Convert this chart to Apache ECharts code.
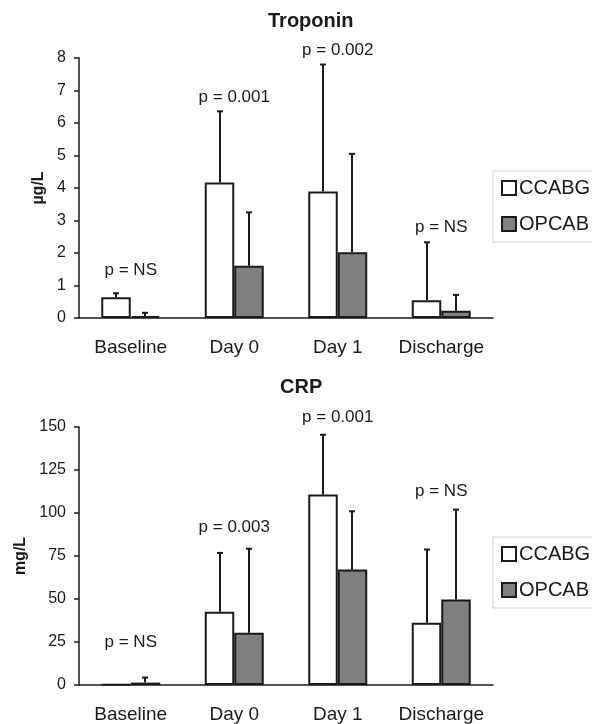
<!DOCTYPE html>
<html>
<head>
<meta charset="utf-8">
<script src="https://cdn.jsdelivr.net/npm/echarts@6/dist/echarts.min.js"></script>
<style>
html, body { margin: 0; padding: 0; background: #fff; }
#chart { width: 592px; height: 724px; }
</style>
</head>
<body>
<div id="chart"></div>
<script>
var categories = ['Baseline', 'Day 0', 'Day 1', 'Discharge'];

// Troponin (µg/L): bar height and top of the error bar
var tropCcabg = [0.64, 4.17, 3.89, 0.55];
var tropCcabgErr = [0.76, 6.36, 7.80, 2.33];
var tropOpcab = [0.06, 1.61, 2.02, 0.22];
var tropOpcabErr = [0.16, 3.25, 5.05, 0.71];
var tropP = ['p = NS', 'p = 0.001', 'p = 0.002', 'p = NS'];
var tropPY = [1.48, 6.8, 8.25, 2.8];

// CRP (mg/L)
var crpCcabg = [0.3, 42.6, 110.7, 36.2];
var crpCcabgErr = [0.3, 76.8, 145.5, 78.8];
var crpOpcab = [1.4, 30.4, 67.2, 49.7];
var crpOpcabErr = [4.3, 79.2, 101, 102];
var crpP = ['p = NS', 'p = 0.003', 'p = 0.001', 'p = NS'];
var crpPY = [24.9, 91.5, 155.8, 112.4];

var FONT = '"Liberation Sans", Arial, sans-serif';
var INK = '#1a1a1a';
var GAP = 0.43;

function errData(mean, top)
{
	return mean.map(function (v, i) { return [i, v, top[i]]; });
}

function pData(ys)
{
	return ys.map(function (v, i) { return [i, v]; });
}

// side: -1 left bar (CCABG), +1 right bar (OPCAB)
function errorBars(side)
{
	return function (params, api) {
		var cat = api.value(0);
		var lo = api.coord([cat, api.value(1)]);
		var hi = api.coord([cat, api.value(2)]);
		if (hi[1] >= lo[1] - 0.5) return null;
		var band = api.size([1, 0])[0];
		var barW = band * (1 - GAP) / 2;
		var x = Math.round(lo[0] + side * barW / 2);
		var style = {stroke: INK, lineWidth: 2};
		return {
			type: 'group',
			children: [
				{type: 'line', shape: {x1: x, y1: lo[1], x2: x, y2: hi[1]}, style: style},
				{type: 'line', shape: {x1: x - 3, y1: hi[1], x2: x + 3, y2: hi[1]}, style: style}
			]
		};
	};
}

function xAxis(idx)
{
	return {
		type: 'category',
		gridIndex: idx,
		data: categories,
		axisLine: {lineStyle: {color: INK, width: 1.5}},
		axisTick: {length: 6, lineStyle: {color: INK, width: 1.5}},
		axisLabel: {interval: 0, color: INK, fontSize: 19, fontFamily: FONT, margin: 20}
	};
}

function yAxis(idx, max, interval, name, gap)
{
	return {
		type: 'value',
		gridIndex: idx,
		min: 0,
		max: max,
		interval: interval,
		name: name,
		nameLocation: 'middle',
		nameGap: gap,
		nameTextStyle: {color: INK, fontSize: 16, fontWeight: 'bold', fontFamily: FONT},
		splitLine: {show: false},
		axisLine: {show: true, lineStyle: {color: INK, width: 1.5}},
		axisTick: {show: true, length: 5, lineStyle: {color: INK, width: 1.5}},
		axisLabel: {color: INK, fontSize: 16, fontFamily: FONT, margin: 13}
	};
}

function bars(name, idx, data, color)
{
	return {
		name: name,
		type: 'bar',
		xAxisIndex: idx,
		yAxisIndex: idx,
		data: data,
		barGap: '0%',
		barCategoryGap: '43%',
		itemStyle: {color: color, borderColor: INK, borderWidth: 2},
		z: 2
	};
}

function errSeries(idx, data, side)
{
	return {
		name: 'err',
		type: 'custom',
		xAxisIndex: idx,
		yAxisIndex: idx,
		renderItem: errorBars(side),
		data: data,
		clip: false,
		z: 3
	};
}

function pSeries(idx, ys, texts)
{
	return {
		name: 'p',
		type: 'scatter',
		xAxisIndex: idx,
		yAxisIndex: idx,
		symbolSize: 0,
		clip: false,
		data: pData(ys),
		itemStyle: {opacity: 1},
		label: {
			show: true,
			position: 'inside',
			color: INK,
			opacity: 1,
			fontSize: 17,
			fontFamily: FONT,
			formatter: function (p) { return texts[p.dataIndex]; }
		},
		z: 4
	};
}

function legendBox(top)
{
	return {
		data: [
			{name: 'CCABG', itemStyle: {color: '#fff', borderColor: INK, borderWidth: 2}},
			{name: 'OPCAB', itemStyle: {color: '#808080', borderColor: INK, borderWidth: 2}}
		],
		orient: 'vertical',
		left: 493,
		top: top,
		icon: 'rect',
		itemWidth: 14,
		itemHeight: 14,
		itemGap: 16,
		padding: [7, 8, 8, 8],
		backgroundColor: '#fff',
		borderColor: '#cfcfcf',
		borderWidth: 1,
		selectedMode: false,
		textStyle: {color: INK, fontSize: 20, fontFamily: FONT, padding: [0, 0, 0, -2]}
	};
}

var chart = echarts.init(document.getElementById('chart'));

var option = {
	animation: false,
	backgroundColor: '#fff',
	title: [
		{text: 'Troponin', left: 268, top: 11, padding: 0,
			textStyle: {color: INK, fontSize: 20, fontWeight: 'bold', fontFamily: FONT}},
		{text: 'CRP', left: 280, top: 377, padding: 0,
			textStyle: {color: INK, fontSize: 20, fontWeight: 'bold', fontFamily: FONT}}
	],
	legend: [legendBox(171), legendBox(537)],
	grid: [
		{left: 79, right: 99, top: 58, height: 260},
		{left: 79, right: 99, top: 427, height: 259}
	],
	xAxis: [xAxis(0), xAxis(1)],
	yAxis: [
		yAxis(0, 8, 1, 'µg/L', 27),
		yAxis(1, 150, 25, 'mg/L', 48)
	],
	series: [
		bars('CCABG', 0, tropCcabg, '#fff'),
		bars('OPCAB', 0, tropOpcab, '#808080'),
		errSeries(0, errData(tropCcabg, tropCcabgErr), -1),
		errSeries(0, errData(tropOpcab, tropOpcabErr), 1),
		pSeries(0, tropPY, tropP),

		bars('CCABG', 1, crpCcabg, '#fff'),
		bars('OPCAB', 1, crpOpcab, '#808080'),
		errSeries(1, errData(crpCcabg, crpCcabgErr), -1),
		errSeries(1, errData(crpOpcab, crpOpcabErr), 1),
		pSeries(1, crpPY, crpP)
	]
};

chart.setOption(option);
</script>
</body>
</html>
